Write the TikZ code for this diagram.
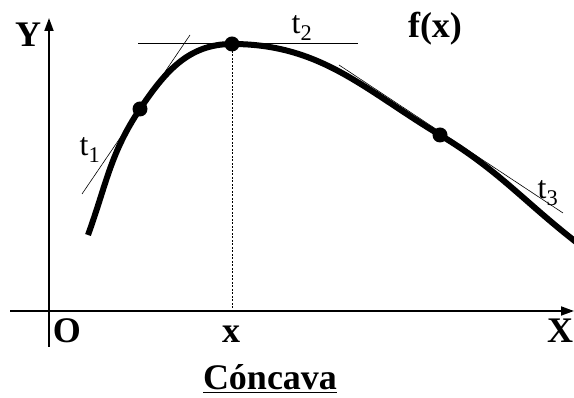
\documentclass[tikz,border=0pt]{standalone}
\usepackage{fontspec}
\setmainfont{Liberation Serif}
\usetikzlibrary{arrows.meta}
\begin{document}
\begin{tikzpicture}[x=1pt,y=1pt,
  axis/.style={line width=1.8pt,-{Triangle[length=13pt,width=9pt]}},
  curve/.style={line width=6pt},
  tang/.style={line width=0.6pt},
  dot/.style={circle,fill=black,inner sep=0pt,minimum size=15pt},
  big/.style={font=\bfseries\fontsize{36}{38}\selectfont,inner sep=0pt},
  small/.style={font=\fontsize{32}{34}\selectfont,inner sep=0pt}]
\useasboundingbox (0,0) rectangle (574,398);
% axes
\coordinate (ybot) at (49,51);
\coordinate (ytop) at (49,380);
\coordinate (xl) at (10,87);
\coordinate (xr) at (574,87);
\draw[axis] (ybot) -- (ytop);
\draw[axis] (xl) -- (xr);
% points
\coordinate (S) at (88,163);
\node[dot] (P1) at (140,289) {};
\node[dot] (P2) at (232,354) {};
\node[dot] (P3) at (440,263) {};
\coordinate (E) at (576,156);
\coordinate (xb) at (232,87);
% curve
\draw[curve] (S) to[out=70,in=236] (P1.center) to[out=56,in=180] (P2.center)
  to[out=0,in=149] (P3.center) to[out=-31,in=142] (E);
% tangents
\coordinate (t1a) at (82,204); \coordinate (t1b) at (190,363);
\coordinate (t2a) at (138,355); \coordinate (t2b) at (358,355);
\coordinate (t3a) at (339,333); \coordinate (t3b) at (563,185);
\draw[tang] (t1a) -- (t1b);
\draw[tang] (t2a) -- (t2b);
\draw[tang] (t3a) -- (t3b);
\draw[tang,dash pattern=on 2pt off 1.5pt] (P2.center) -- (xb);
% labels
\node[big] (Y) at (28,363) {Y};
\node[big] (fx) at (435,369) {f(x)};
\node[big,anchor=base] (O) at (67,55) {O};
\node[big,anchor=base] (x) at (231,55) {x};
\node[big,anchor=base] (X) at (560,55) {X};
\node[small] (t1) at (90,248) {t\textsubscript{1}};
\node[small] (t2) at (302,370) {t\textsubscript{2}};
\node[small] (t3) at (548,205) {t\textsubscript{3}};
\node[big,anchor=base] (c) at (270,8) {\underline{Cóncava}};
\end{tikzpicture}
\end{document}
